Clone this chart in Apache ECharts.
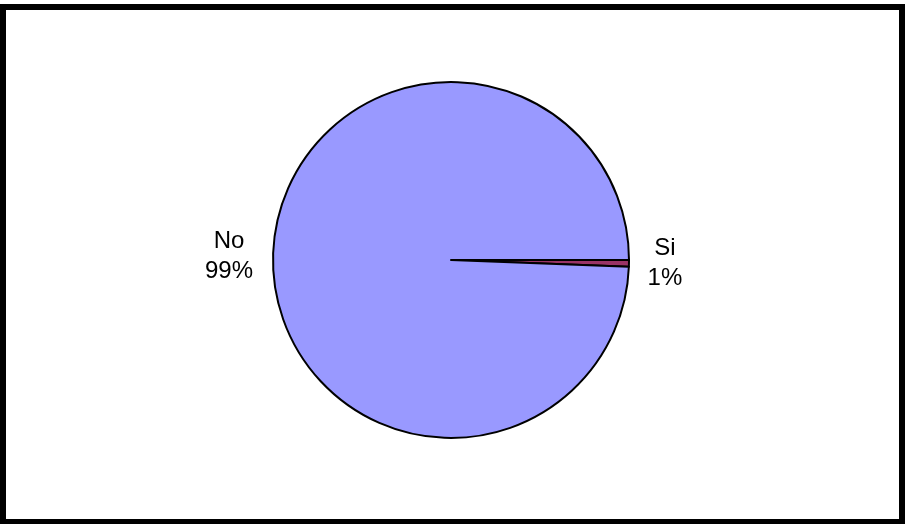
<!DOCTYPE html>
<html>
<head>
<meta charset="utf-8">
<script src="https://cdn.jsdelivr.net/npm/echarts@6/dist/echarts.min.js"></script>
<style>
  html, body { margin: 0; padding: 0; background: #fff; }
  #chart { width: 906px; height: 524px; }
</style>
</head>
<body>
<div id="chart"></div>
<script>
// categorias y valores (porcentaje)
const categories = ['Si', 'No']
const values = [0.6, 99.4]
const colors = ['#993366', '#9999FF']
// ancho del bloque de etiqueta por categoria
const labelWidths = [30, 46]

const chart = echarts.init(document.getElementById('chart'))

const data = categories.map((name, i) => ({
  name: name,
  value: values[i],
  itemStyle: { color: colors[i] },
  label: {
    rich: {
      t: {
        fontFamily: 'Liberation Sans, Arial, sans-serif',
        fontSize: 24,
        lineHeight: 30,
        color: '#000',
        width: labelWidths[i],
        align: 'center'
      }
    }
  }
}))

chart.setOption({
  backgroundColor: '#ffffff',
  animation: false,
  graphic: [{
    type: 'rect',
    shape: { x: 3, y: 7, width: 899, height: 515 },
    style: { fill: 'none', stroke: '#000', lineWidth: 6 },
    silent: true
  }],
  series: [{
    type: 'pie',
    center: [451, 260],
    radius: 178,
    startAngle: 0,
    clockwise: true,
    percentPrecision: 0,
    avoidLabelOverlap: false,
    itemStyle: { borderColor: '#000', borderWidth: 2 },
    label: {
      show: true,
      position: 'outside',
      formatter: '{t|{b}}\n{t|{d}%}'
    },
    labelLine: { show: false, length: 10, length2: 6 },
    emphasis: { disabled: true },
    data: data
  }]
})
</script>
</body>
</html>
